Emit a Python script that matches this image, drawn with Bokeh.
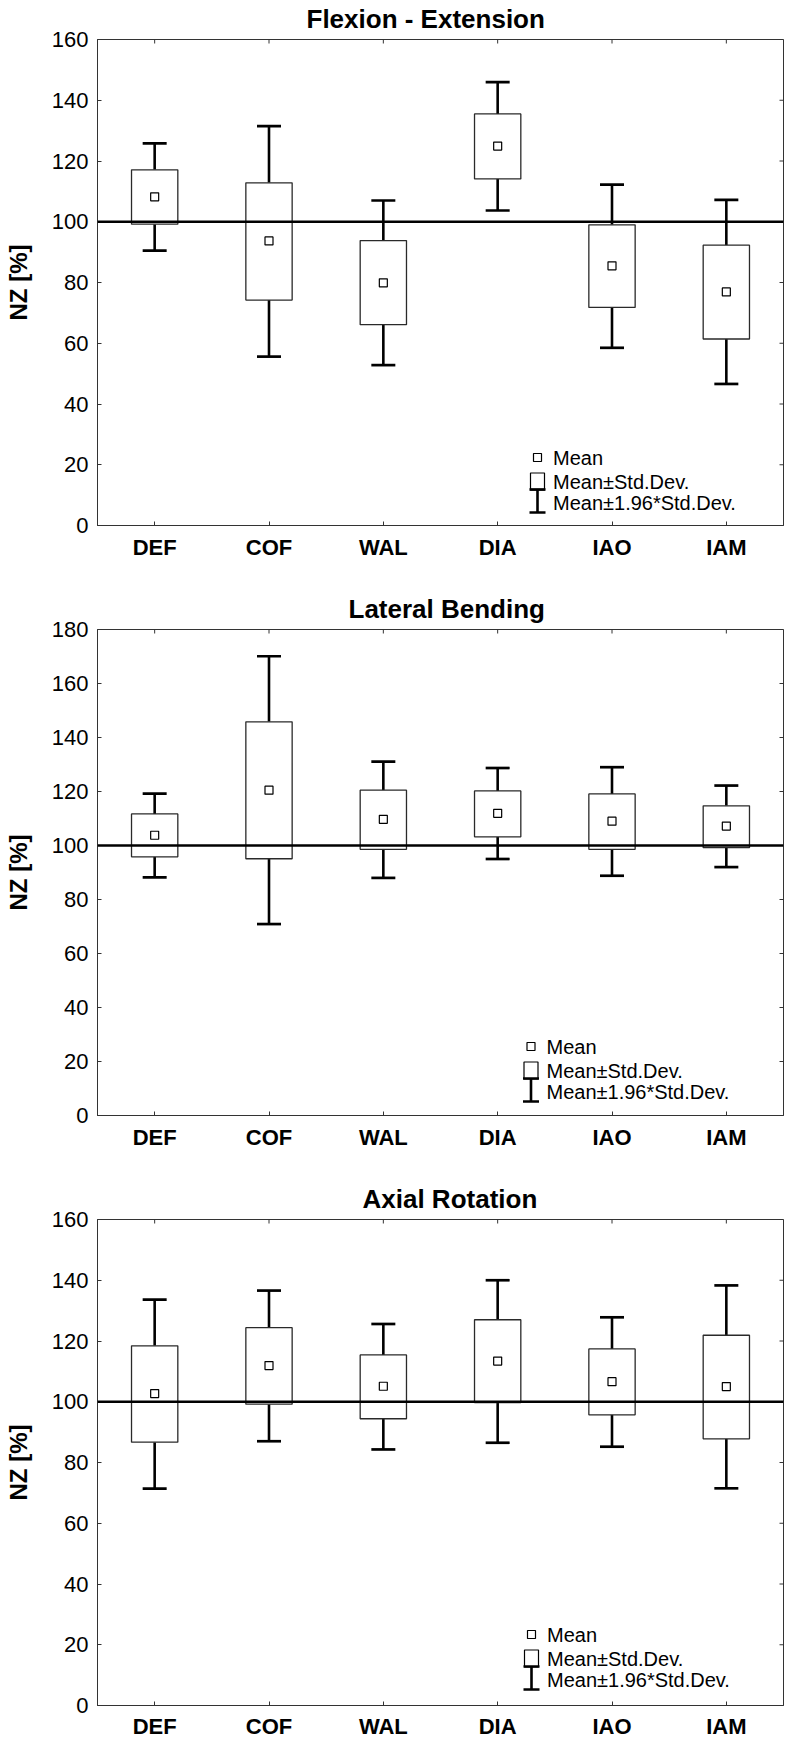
import math
from bokeh.plotting import figure
from bokeh.models import Range1d, FixedTicker, Span
from bokeh.layouts import column
from bokeh.embed import file_html
from bokeh.resources import INLINE
from bokeh.core.properties import value

# ---------------- data ----------------
categories = ["DEF", "COF", "WAL", "DIA", "IAO", "IAM"]

fe_mean    = [108.2, 93.7, 79.9, 124.9, 85.5, 76.9]
fe_sd_low  = [99.2, 74.2, 66.1, 114.1, 71.8, 61.4]
fe_sd_high = [117.1, 112.8, 93.8, 135.5, 99.0, 92.3]
fe_ci_low  = [90.5, 55.6, 52.8, 103.7, 58.5, 46.6]
fe_ci_high = [125.8, 131.5, 107.0, 146.0, 112.2, 107.2]

lb_mean    = [103.8, 120.5, 109.7, 111.9, 109.0, 107.2]
lb_sd_low  = [95.8, 95.1, 98.6, 103.2, 98.6, 99.2]
lb_sd_high = [111.7, 145.8, 120.5, 120.2, 119.1, 114.7]
lb_ci_low  = [88.2, 70.9, 88.0, 95.0, 88.8, 92.0]
lb_ci_high = [119.2, 170.1, 131.1, 128.7, 129.0, 122.2]

ar_mean    = [102.7, 111.9, 105.1, 113.4, 106.6, 105.0]
ar_sd_low  = [86.7, 99.2, 94.4, 99.7, 95.7, 87.8]
ar_sd_high = [118.4, 124.4, 115.4, 127.0, 117.4, 121.9]
ar_ci_low  = [71.4, 87.0, 84.3, 86.5, 85.2, 71.5]
ar_ci_high = [133.6, 136.6, 125.6, 140.0, 127.8, 138.3]

titles = ["Flexion - Extension", "Lateral Bending", "Axial Rotation"]
y_max = [160, 180, 160]
reference_level = 100
legend_labels = ["Mean", "Mean\u00b1Std.Dev.", "Mean\u00b11.96*Std.Dev."]

# ---------------- style ----------------
FONT = "Liberation Sans"
FW, FH = 686, 486
AX = "#333333"


def make_panel(title, mean, sd_lo, sd_hi, ci_lo, ci_hi, ymax, anchor, title_offset,
               bottom_border, xlabel_standoff):
    xs = list(range(1, len(categories) + 1))
    yticks = list(range(0, ymax + 1, 20))
    x_lo, x_hi = 0.5, len(categories) + 0.5
    ux = len(categories) / FW
    uy = ymax / FH
    p = figure(frame_width=FW, frame_height=FH,
               x_range=Range1d(x_lo, x_hi), y_range=Range1d(0, ymax),
               output_backend="svg", toolbar_location=None,
               min_border_left=97, min_border_right=2, min_border_top=39,
               min_border_bottom=bottom_border, title=title)
    p.xgrid.visible = False
    p.ygrid.visible = False
    p.outline_line_color = AX
    p.outline_line_width = 1
    p.background_fill_color = "white"
    p.border_fill_color = "white"

    p.title.align = "left"
    p.title.offset = title_offset
    p.title.vertical_align = "top"
    p.title.standoff = 7
    p.title.text_font = FONT
    p.title.text_font_size = "26px"
    p.title.text_font_style = "bold"
    p.title.text_color = "black"

    xa = p.xaxis[0]
    xa.ticker = FixedTicker(ticks=xs)
    xa.major_label_overrides = {x: c for x, c in zip(xs, categories)}
    xa.major_label_text_font = FONT
    xa.major_label_text_font_size = "22px"
    xa.major_label_text_font_style = "bold"
    xa.major_label_text_color = "black"
    xa.major_label_standoff = xlabel_standoff

    ya = p.yaxis[0]
    ya.ticker = FixedTicker(ticks=yticks)
    ya.major_label_text_font = FONT
    ya.major_label_text_font_size = "22px"
    ya.major_label_text_color = "black"
    ya.major_label_standoff = 9
    ya.axis_label = "NZ [%]"
    ya.axis_label_text_font = FONT
    ya.axis_label_text_font_size = "24px"
    ya.axis_label_text_font_style = "bold"
    ya.axis_label_text_color = "black"
    ya.axis_label_standoff = 17

    for a in (xa, ya):
        a.major_tick_in = 4
        a.major_tick_out = 0
        a.minor_tick_line_color = None
        a.axis_line_color = AX
        a.major_tick_line_color = AX

    # mirrored inside ticks on the right and top edges (clipped to the frame)
    p.scatter(x=[x_hi] * len(yticks), y=yticks, marker="dash", size=8,
              line_color=AX, line_width=1)
    p.scatter(x=xs, y=[ymax] * len(xs), marker="dash", angle=math.pi / 2, size=8,
              line_color=AX, line_width=1)

    # whiskers
    p.segment(x0=xs, y0=sd_hi, x1=xs, y1=ci_hi, line_color="black", line_width=2.6)
    p.segment(x0=xs, y0=sd_lo, x1=xs, y1=ci_lo, line_color="black", line_width=2.6)
    p.scatter(x=xs, y=ci_hi, marker="dash", size=24, line_color="black", line_width=2.7)
    p.scatter(x=xs, y=ci_lo, marker="dash", size=24, line_color="black", line_width=2.7)
    # boxes
    p.vbar(x=xs, width=0.405, bottom=sd_lo, top=sd_hi, fill_color="white",
           line_color="#2a2a2a", line_width=1.3)
    # means
    p.scatter(x=xs, y=mean, marker="square", size=8, fill_color="white",
              line_color="black", line_width=1.2)

    p.add_layout(Span(location=reference_level, dimension="width",
                      line_color="black", line_width=2.5))

    # custom legend (positions in pixels relative to the frame)
    adx, ady = anchor
    lx = x_lo + adx * ux
    p.scatter(x=[lx], y=[ady * uy], marker="square", size=8, fill_color="white",
              line_color="black", line_width=1.2)
    p.rect(x=[lx], y=[(ady - 24) * uy], width=14, height=17, width_units="screen",
           height_units="screen", fill_color="white", line_color="black", line_width=1.2)
    p.segment(x0=[lx], y0=[(ady - 55) * uy], x1=[lx], y1=[(ady - 32) * uy],
              line_color="black", line_width=2.6)
    p.scatter(x=[lx, lx], y=[(ady - 55) * uy, (ady - 32) * uy], marker="dash", size=16,
              line_color="black", line_width=2.7)
    tx = x_lo + (adx + 15.5) * ux
    p.text(x=[tx] * 3, y=[ady * uy, (ady - 24) * uy, (ady - 45.5) * uy], text=legend_labels,
           text_baseline="middle", text_align="left", text_font=value(FONT),
           text_font_size="20px", text_color="black")
    return p


p1 = make_panel(titles[0], fe_mean, fe_sd_low, fe_sd_high, fe_ci_low, fe_ci_high,
                y_max[0], (440, 68), 209, 65, 9)
p2 = make_panel(titles[1], lb_mean, lb_sd_low, lb_sd_high, lb_ci_low, lb_ci_high,
                y_max[1], (433.5, 69), 251, 65, 9)
p3 = make_panel(titles[2], ar_mean, ar_sd_low, ar_sd_high, ar_ci_low, ar_ci_high,
                y_max[2], (434, 71), 265, 33, 8)

layout = column(p1, p2, p3, spacing=0)
open("out.html", "w").write(file_html(layout, INLINE))
